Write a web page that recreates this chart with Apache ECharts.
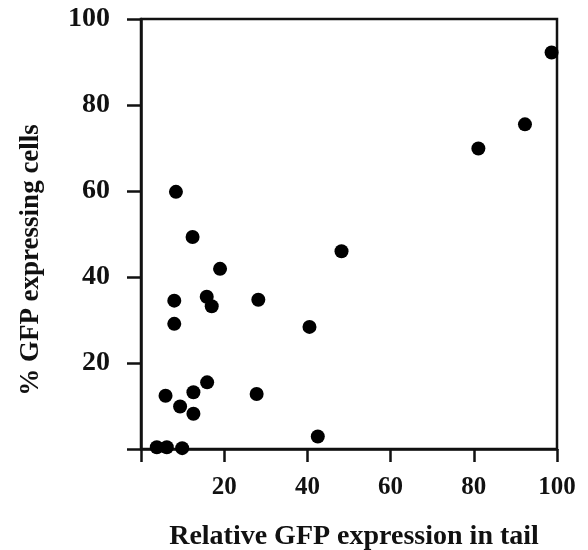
<!DOCTYPE html>
<html lang="en">
<head>
    <meta charset="utf-8">
    <title>GFP scatter</title>
    <script src="https://cdn.jsdelivr.net/npm/echarts@6/dist/echarts.min.js"></script>
    <style>
        html, body { margin: 0; padding: 0; background: #fff; }
        #chart { width: 588px; height: 550px; }
    </style>
</head>
<body>
<div id="chart"></div>
<script>
    // values
    var tailExpr = [98.7, 92.3, 81.1, 48.2, 8.4, 12.4, 19.0, 8.0, 15.8, 17.0, 28.2, 8.0, 40.5,
                    5.9, 12.6, 15.9, 9.4, 12.6, 27.8, 42.5, 3.8, 6.2, 9.9];
    var pctCells = [92.2, 75.5, 69.9, 46.0, 59.8, 49.3, 41.9, 34.5, 35.4, 33.2, 34.7, 29.1, 28.4,
                    12.4, 13.2, 15.5, 9.9, 8.2, 12.8, 2.9, 0.4, 0.4, 0.2];
    var tickLabels = ['20', '40', '60', '80', '100'];

    var points = [];
    for (var i = 0; i < tailExpr.length; i++) {
        points.push([tailExpr[i], pctCells[i]]);
    }

    var font = "'Liberation Serif', 'Times New Roman', serif";
    function showTick(v) {
        return tickLabels.indexOf(String(v)) >= 0 ? String(v) : '';
    }

    var chart = echarts.init(document.getElementById('chart'));
    chart.setOption({
        animation: false,
        grid: {
            left: 141, right: 31, top: 19, bottom: 101,
            outerBoundsMode: 'none',
            show: true, borderColor: '#111', borderWidth: 2.5
        },
        xAxis: {
            type: 'value', min: 0, max: 100, interval: 20,
            name: 'Relative GFP expression in tail',
            nameLocation: 'middle', nameGap: 74,
            nameTextStyle: { fontFamily: font, fontWeight: 'bold', fontSize: 28, color: '#111', padding: [0, 0, 0, 10] },
            axisLine: { lineStyle: { color: '#111', width: 2.5 } },
            axisTick: { length: 13, lineStyle: { color: '#111', width: 2.5 } },
            axisLabel: { margin: 26, formatter: showTick, fontFamily: font, fontWeight: 'bold', fontSize: 25, color: '#111' },
            splitLine: { show: false }
        },
        yAxis: {
            type: 'value', min: 0, max: 100, interval: 20,
            name: '% GFP expressing cells',
            nameLocation: 'middle', nameGap: 96,
            nameTextStyle: { fontFamily: font, fontWeight: 'bold', fontSize: 27, color: '#111', padding: [0, 52, 0, 0] },
            axisLine: { lineStyle: { color: '#111', width: 2.5 } },
            axisTick: { length: 14, lineStyle: { color: '#111', width: 2.5 } },
            axisLabel: { margin: 31, formatter: showTick, fontFamily: font, fontWeight: 'bold', fontSize: 28, color: '#111' },
            splitLine: { show: false }
        },
        series: [{
            type: 'scatter',
            data: points,
            symbolSize: 14,
            itemStyle: { color: '#000', opacity: 1 }
        }]
    });
</script>
</body>
</html>
